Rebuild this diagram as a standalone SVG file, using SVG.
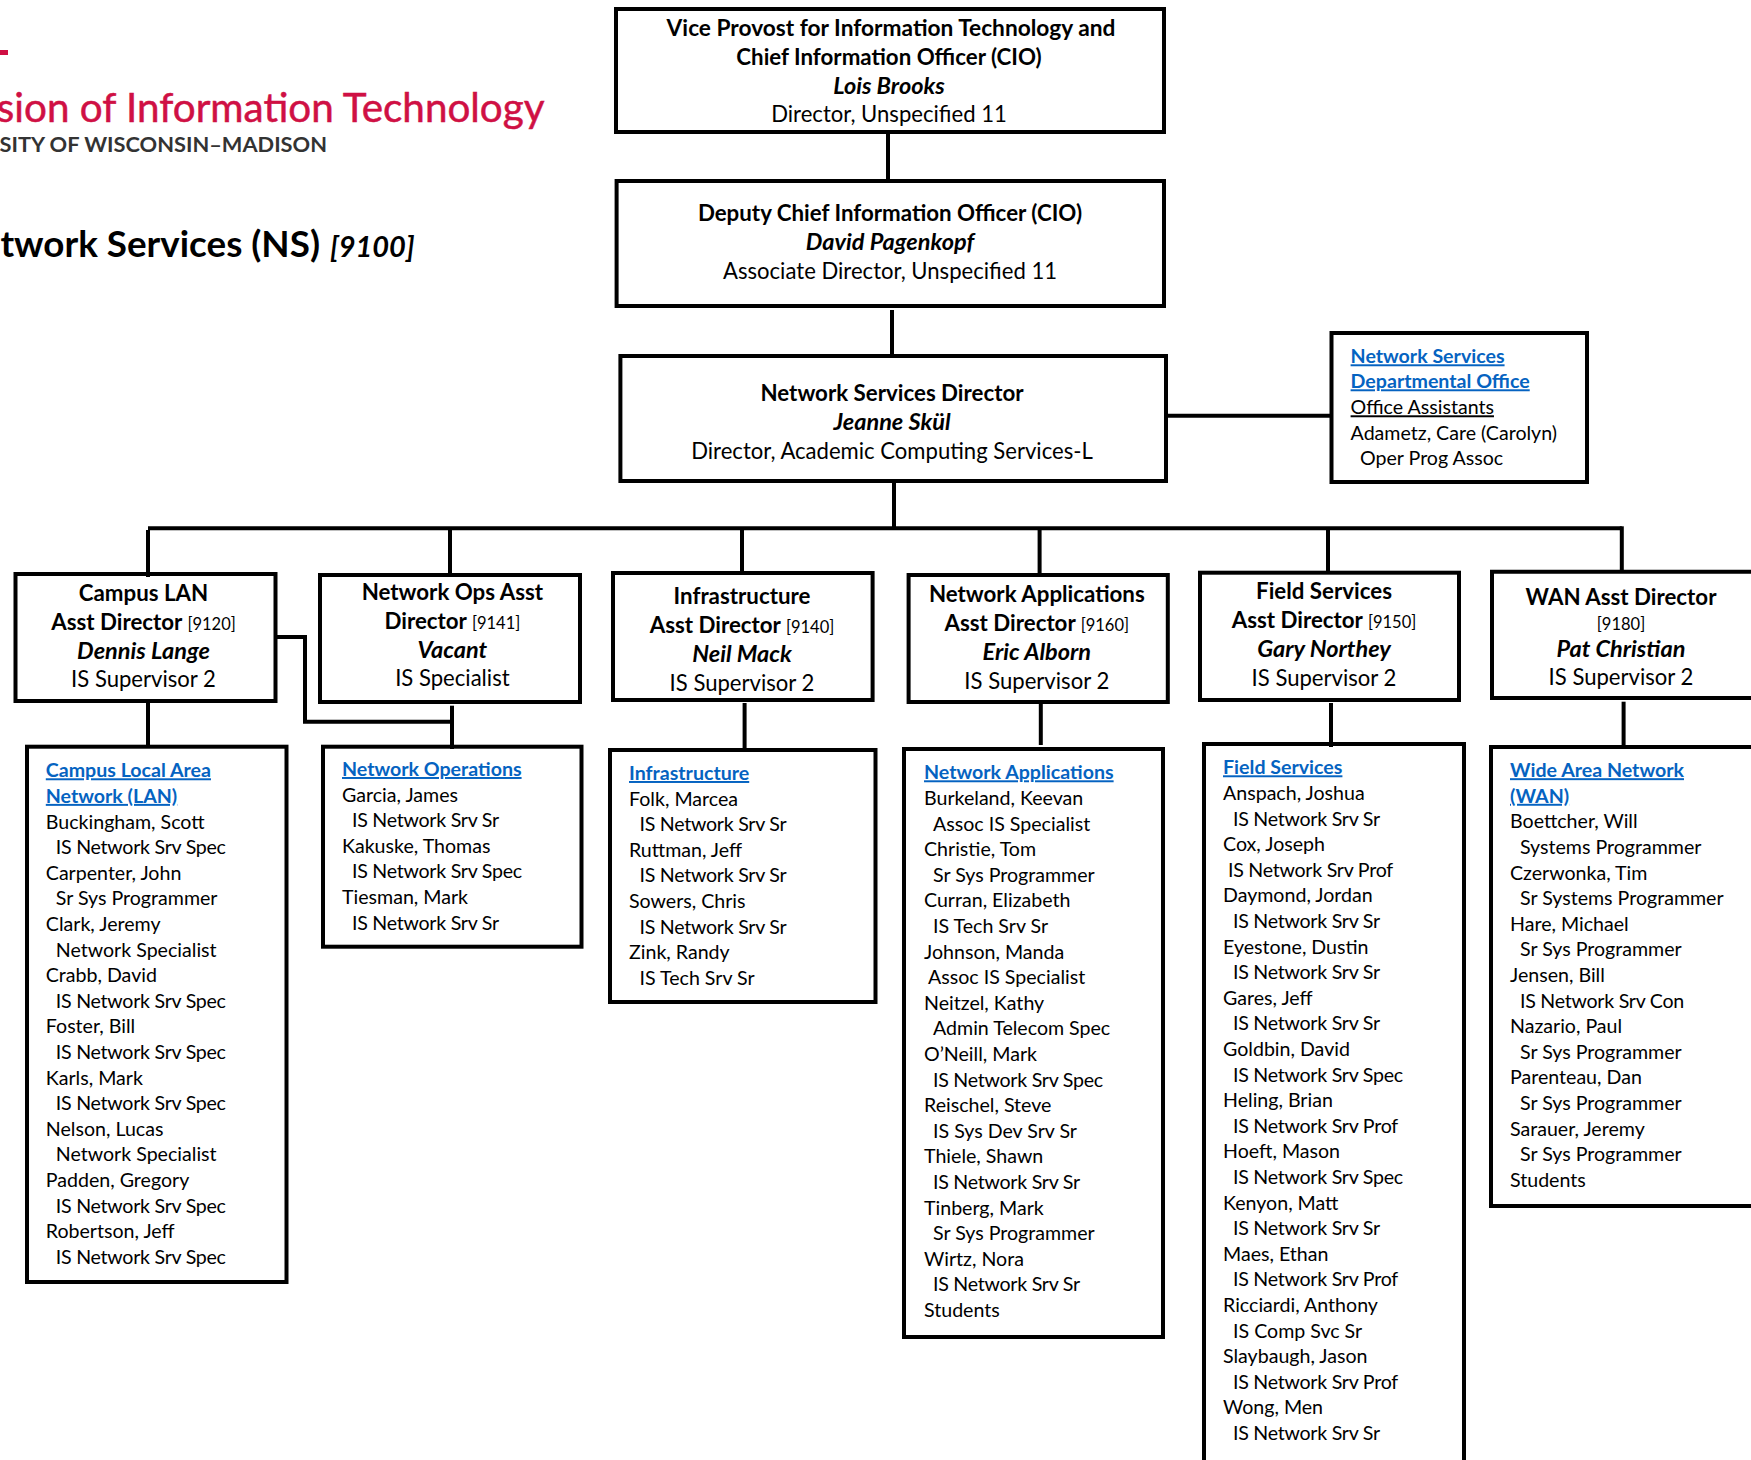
<svg xmlns="http://www.w3.org/2000/svg" width="1751" height="1460" viewBox="0 0 1751 1460">
<style>
text{font-family:"Lato","Liberation Sans",sans-serif;fill:#000}
.box{fill:#fff;stroke:#000;stroke-width:4}
.open{fill:none;stroke:#000;stroke-width:4}
.c{fill:none;stroke:#000;stroke-width:4}
.h{font-size:22.1px;text-anchor:middle;transform:translateY(.7px)}
.b{font-weight:700;font-size:22.3px}
.bw{font-weight:700;font-size:22.7px}
.bi{font-weight:700;font-style:italic;font-size:23.5px}
.sm{font-size:16.5px;font-weight:400}
.l{font-size:19.6px}
.n{letter-spacing:-.26px}
.lk{fill:#0563C1;font-weight:700;text-decoration:underline}
.u{text-decoration:underline}
</style>
<g id="logo">
<rect x="0" y="50" width="8" height="5" fill="#CF1044"/>
<text x="544.5" y="121.7" font-size="40.4" text-anchor="end" style="fill:#CF1044;stroke:#CF1044;stroke-width:.5">sion of Information Technology</text>
<text x="327" y="151.7" font-size="21.8" text-anchor="end" font-weight="700" style="fill:#333">SITY OF WISCONSIN–MADISON</text>
</g>
<g id="title">
<text x="320" y="256.5" font-size="36.8" font-weight="700" text-anchor="end">twork Services (NS)</text>
<text x="330" y="256.5" font-size="29" font-weight="700" font-style="italic">[9100]</text>
</g>
<g id="n-cio">
<rect class="box" x="616" y="9" width="548" height="123"/>
<text class="h" y="35"><tspan class="bw" x="891">Vice Provost for Information Technology and</tspan><tspan class="b" x="889" dy="29">Chief Information Officer (CIO)</tspan><tspan class="bi" x="889" dy="29">Lois Brooks</tspan><tspan x="889" dy="28.7">Director, Unspecified 11</tspan></text>
</g>
<g id="n-deputy">
<rect class="box" x="616.6" y="181" width="547.4" height="125"/>
<text class="h" y="220.7"><tspan class="b" x="890">Deputy Chief Information Officer (CIO)</tspan><tspan class="bi" x="890" dy="29">David Pagenkopf</tspan><tspan x="890" dy="29">Associate Director, Unspecified 11</tspan></text>
</g>
<g id="n-director">
<rect class="box" x="620.4" y="356" width="545.6" height="125"/>
<text class="h" y="400.7"><tspan class="b" x="892">Network Services Director</tspan><tspan class="bi" x="892" dy="29">Jeanne Skül</tspan><tspan x="892" dy="28.5">Director, Academic Computing Services-L</tspan></text>
</g>
<g id="n-office">
<rect class="box" x="1331.5" y="333" width="255.5" height="149"/>
<text class="l" y="363.3"><tspan class="lk" x="1350.6">Network Services</tspan><tspan class="lk" x="1350.6" dy="25">Departmental Office</tspan><tspan class="u" x="1350.6" dy="26">Office Assistants</tspan><tspan x="1350.6" dy="25.7">Adametz, Care (Carolyn)</tspan><tspan x="1360" dy="25">Oper Prog Assoc</tspan></text>
</g>
<g id="n-lan-dir">
<rect class="box" x="15.5" y="574" width="260" height="127"/>
<text class="h" y="600"><tspan class="b" x="143.5">Campus LAN</tspan><tspan class="b" x="143.5" dy="29.3">Asst Director <tspan class="sm">[9120]</tspan></tspan><tspan class="bi" x="143.5" dy="29">Dennis Lange</tspan><tspan x="143.5" dy="28.5">IS Supervisor 2</tspan></text>
</g>
<g id="n-ops-dir">
<rect class="box" x="320" y="575" width="260" height="127"/>
<text class="h" y="599.3"><tspan class="b" x="452.4">Network Ops Asst</tspan><tspan class="b" x="452.4" dy="29">Director <tspan class="sm">[9141]</tspan></tspan><tspan class="bi" x="452.4" dy="29">Vacant</tspan><tspan x="452.4" dy="27.7">IS Specialist</tspan></text>
</g>
<g id="n-inf-dir">
<rect class="box" x="613" y="573" width="259.6" height="127"/>
<text class="h" y="603.3"><tspan class="b" x="742">Infrastructure</tspan><tspan class="b" x="742" dy="29">Asst Director <tspan class="sm">[9140]</tspan></tspan><tspan class="bi" x="742" dy="28.7">Neil Mack</tspan><tspan x="742" dy="29">IS Supervisor 2</tspan></text>
</g>
<g id="n-app-dir">
<rect class="box" x="908.6" y="575" width="259.2" height="127"/>
<text class="h" y="601"><tspan class="b" x="1036.8">Network Applications</tspan><tspan class="b" x="1036.8" dy="29">Asst Director <tspan class="sm">[9160]</tspan></tspan><tspan class="bi" x="1036.8" dy="29">Eric Alborn</tspan><tspan x="1036.8" dy="29.3">IS Supervisor 2</tspan></text>
</g>
<g id="n-fld-dir">
<rect class="box" x="1200" y="572.7" width="259" height="127.3"/>
<text class="h" y="598.3"><tspan class="b" x="1324">Field Services</tspan><tspan class="b" x="1324" dy="29">Asst Director <tspan class="sm">[9150]</tspan></tspan><tspan class="bi" x="1324" dy="29.4">Gary Northey</tspan><tspan x="1324" dy="28.3">IS Supervisor 2</tspan></text>
</g>
<g id="n-wan-dir">
<path class="open" d="M1751 571.7H1492V698H1751"/>
<text class="h" y="604"><tspan class="b" x="1621">WAN Asst Director</tspan><tspan class="sm" x="1621" dy="25">[9180]</tspan><tspan class="bi" x="1621" dy="27">Pat Christian</tspan><tspan x="1621" dy="28">IS Supervisor 2</tspan></text>
</g>
<g id="n-lan">
<rect class="box" x="27" y="746.7" width="259.5" height="535.3"/>
<text class="l" y="777.3"><tspan class="lk" x="45.8">Campus Local Area</tspan><tspan class="lk" x="45.8" dy="25.6">Network (LAN)</tspan><tspan x="45.8" dy="25.6">Buckingham, Scott</tspan><tspan class="n" x="55.8" dy="25.6">IS Network Srv Spec</tspan><tspan x="45.8" dy="25.6">Carpenter, John</tspan><tspan x="55.8" dy="25.6">Sr Sys Programmer</tspan><tspan x="45.8" dy="25.6">Clark, Jeremy</tspan><tspan x="55.8" dy="25.6">Network Specialist</tspan><tspan x="45.8" dy="25.6">Crabb, David</tspan><tspan class="n" x="55.8" dy="25.6">IS Network Srv Spec</tspan><tspan x="45.8" dy="25.6">Foster, Bill</tspan><tspan class="n" x="55.8" dy="25.6">IS Network Srv Spec</tspan><tspan x="45.8" dy="25.6">Karls, Mark</tspan><tspan class="n" x="55.8" dy="25.6">IS Network Srv Spec</tspan><tspan x="45.8" dy="25.6">Nelson, Lucas</tspan><tspan x="55.8" dy="25.6">Network Specialist</tspan><tspan x="45.8" dy="25.6">Padden, Gregory</tspan><tspan class="n" x="55.8" dy="25.6">IS Network Srv Spec</tspan><tspan x="45.8" dy="25.6">Robertson, Jeff</tspan><tspan class="n" x="55.8" dy="25.6">IS Network Srv Spec</tspan></text>
</g>
<g id="n-ops">
<rect class="box" x="323" y="746.7" width="258.5" height="200"/>
<text class="l" y="776"><tspan class="lk" x="342">Network Operations</tspan><tspan x="342" dy="25.6">Garcia, James</tspan><tspan class="n" x="352" dy="25.6">IS Network Srv Sr</tspan><tspan x="342" dy="25.6">Kakuske, Thomas</tspan><tspan class="n" x="352" dy="25.6">IS Network Srv Spec</tspan><tspan x="342" dy="25.6">Tiesman, Mark</tspan><tspan class="n" x="352" dy="25.6">IS Network Srv Sr</tspan></text>
</g>
<g id="n-inf">
<rect class="box" x="610" y="750" width="265.5" height="252"/>
<text class="l" y="780"><tspan class="lk" x="629">Infrastructure</tspan><tspan x="629" dy="25.6">Folk, Marcea</tspan><tspan class="n" x="639.5" dy="25.6">IS Network Srv Sr</tspan><tspan x="629" dy="25.6">Ruttman, Jeff</tspan><tspan class="n" x="639.5" dy="25.6">IS Network Srv Sr</tspan><tspan x="629" dy="25.6">Sowers, Chris</tspan><tspan class="n" x="639.5" dy="25.6">IS Network Srv Sr</tspan><tspan x="629" dy="25.6">Zink, Randy</tspan><tspan x="639.5" dy="25.6">IS Tech Srv Sr</tspan></text>
</g>
<g id="n-app">
<rect class="box" x="904" y="749" width="259" height="588"/>
<text class="l" y="779.3"><tspan class="lk" x="924">Network Applications</tspan><tspan x="924" dy="25.6">Burkeland, Keevan</tspan><tspan x="933" dy="25.6">Assoc IS Specialist</tspan><tspan x="924" dy="25.6">Christie, Tom</tspan><tspan x="933" dy="25.6">Sr Sys Programmer</tspan><tspan x="924" dy="25.6">Curran, Elizabeth</tspan><tspan x="933" dy="25.6">IS Tech Srv Sr</tspan><tspan x="924" dy="25.6">Johnson, Manda</tspan><tspan x="928" dy="25.6">Assoc IS Specialist</tspan><tspan x="924" dy="25.6">Neitzel, Kathy</tspan><tspan x="933" dy="25.6">Admin Telecom Spec</tspan><tspan x="924" dy="25.6">O’Neill, Mark</tspan><tspan class="n" x="933" dy="25.6">IS Network Srv Spec</tspan><tspan x="924" dy="25.6">Reischel, Steve</tspan><tspan x="933" dy="25.6">IS Sys Dev Srv Sr</tspan><tspan x="924" dy="25.6">Thiele, Shawn</tspan><tspan class="n" x="933" dy="25.6">IS Network Srv Sr</tspan><tspan x="924" dy="25.6">Tinberg, Mark</tspan><tspan x="933" dy="25.6">Sr Sys Programmer</tspan><tspan x="924" dy="25.6">Wirtz, Nora</tspan><tspan class="n" x="933" dy="25.6">IS Network Srv Sr</tspan><tspan x="924" dy="25.6">Students</tspan></text>
</g>
<g id="n-fld">
<path class="open" d="M1204 1460V744H1464V1460"/>
<text class="l" y="774.3"><tspan class="lk" x="1223">Field Services</tspan><tspan x="1223" dy="25.6">Anspach, Joshua</tspan><tspan class="n" x="1233" dy="25.6">IS Network Srv Sr</tspan><tspan x="1223" dy="25.6">Cox, Joseph</tspan><tspan class="n" x="1228" dy="25.6">IS Network Srv Prof</tspan><tspan x="1223" dy="25.6">Daymond, Jordan</tspan><tspan class="n" x="1233" dy="25.6">IS Network Srv Sr</tspan><tspan x="1223" dy="25.6">Eyestone, Dustin</tspan><tspan class="n" x="1233" dy="25.6">IS Network Srv Sr</tspan><tspan x="1223" dy="25.6">Gares, Jeff</tspan><tspan class="n" x="1233" dy="25.6">IS Network Srv Sr</tspan><tspan x="1223" dy="25.6">Goldbin, David</tspan><tspan class="n" x="1233" dy="25.6">IS Network Srv Spec</tspan><tspan x="1223" dy="25.6">Heling, Brian</tspan><tspan class="n" x="1233" dy="25.6">IS Network Srv Prof</tspan><tspan x="1223" dy="25.6">Hoeft, Mason</tspan><tspan class="n" x="1233" dy="25.6">IS Network Srv Spec</tspan><tspan x="1223" dy="25.6">Kenyon, Matt</tspan><tspan class="n" x="1233" dy="25.6">IS Network Srv Sr</tspan><tspan x="1223" dy="25.6">Maes, Ethan</tspan><tspan class="n" x="1233" dy="25.6">IS Network Srv Prof</tspan><tspan x="1223" dy="25.6">Ricciardi, Anthony</tspan><tspan x="1233" dy="25.6">IS Comp Svc Sr</tspan><tspan x="1223" dy="25.6">Slaybaugh, Jason</tspan><tspan class="n" x="1233" dy="25.6">IS Network Srv Prof</tspan><tspan x="1223" dy="25.6">Wong, Men</tspan><tspan class="n" x="1233" dy="25.6">IS Network Srv Sr</tspan></text>
</g>
<g id="n-wan">
<path class="open" d="M1751 747H1491V1206H1751"/>
<text class="l" y="777.2"><tspan class="lk" x="1510">Wide Area Network</tspan><tspan class="lk" x="1510" dy="25.6">(WAN)</tspan><tspan x="1510" dy="25.6">Boettcher, Will</tspan><tspan x="1520" dy="25.6">Systems Programmer</tspan><tspan x="1510" dy="25.6">Czerwonka, Tim</tspan><tspan x="1520" dy="25.6">Sr Systems Programmer</tspan><tspan x="1510" dy="25.6">Hare, Michael</tspan><tspan x="1520" dy="25.6">Sr Sys Programmer</tspan><tspan x="1510" dy="25.6">Jensen, Bill</tspan><tspan class="n" x="1520" dy="25.6">IS Network Srv Con</tspan><tspan x="1510" dy="25.6">Nazario, Paul</tspan><tspan x="1520" dy="25.6">Sr Sys Programmer</tspan><tspan x="1510" dy="25.6">Parenteau, Dan</tspan><tspan x="1520" dy="25.6">Sr Sys Programmer</tspan><tspan x="1510" dy="25.6">Sarauer, Jeremy</tspan><tspan x="1520" dy="25.6">Sr Sys Programmer</tspan><tspan x="1510" dy="25.6">Students</tspan></text>
</g>
<g id="connectors">
<path class="c" d="M888 132V181"/>
<path class="c" d="M892 310V358"/>
<path class="c" d="M1166 415.7H1331.5"/>
<path class="c" d="M894 481V528.3"/>
<path class="c" d="M148 528.3H1621.8"/>
<path class="c" d="M148 530V577"/>
<path class="c" d="M450 528.3V575"/>
<path class="c" d="M742 528.3V573"/>
<path class="c" d="M1039.6 528.3V575"/>
<path class="c" d="M1328 528.3V572.7"/>
<path class="c" d="M1621.8 526.3V571.7"/>
<path class="c" d="M275.5 637H305V721.7H452"/>
<path class="c" d="M452 705.7V749"/>
<path class="c" d="M148 701V746.7"/>
<path class="c" d="M744.6 703V750"/>
<path class="c" d="M1040.8 704V745"/>
<path class="c" d="M1331 703V747"/>
<path class="c" d="M1623.6 701.7V747"/>
</g>
</svg>
